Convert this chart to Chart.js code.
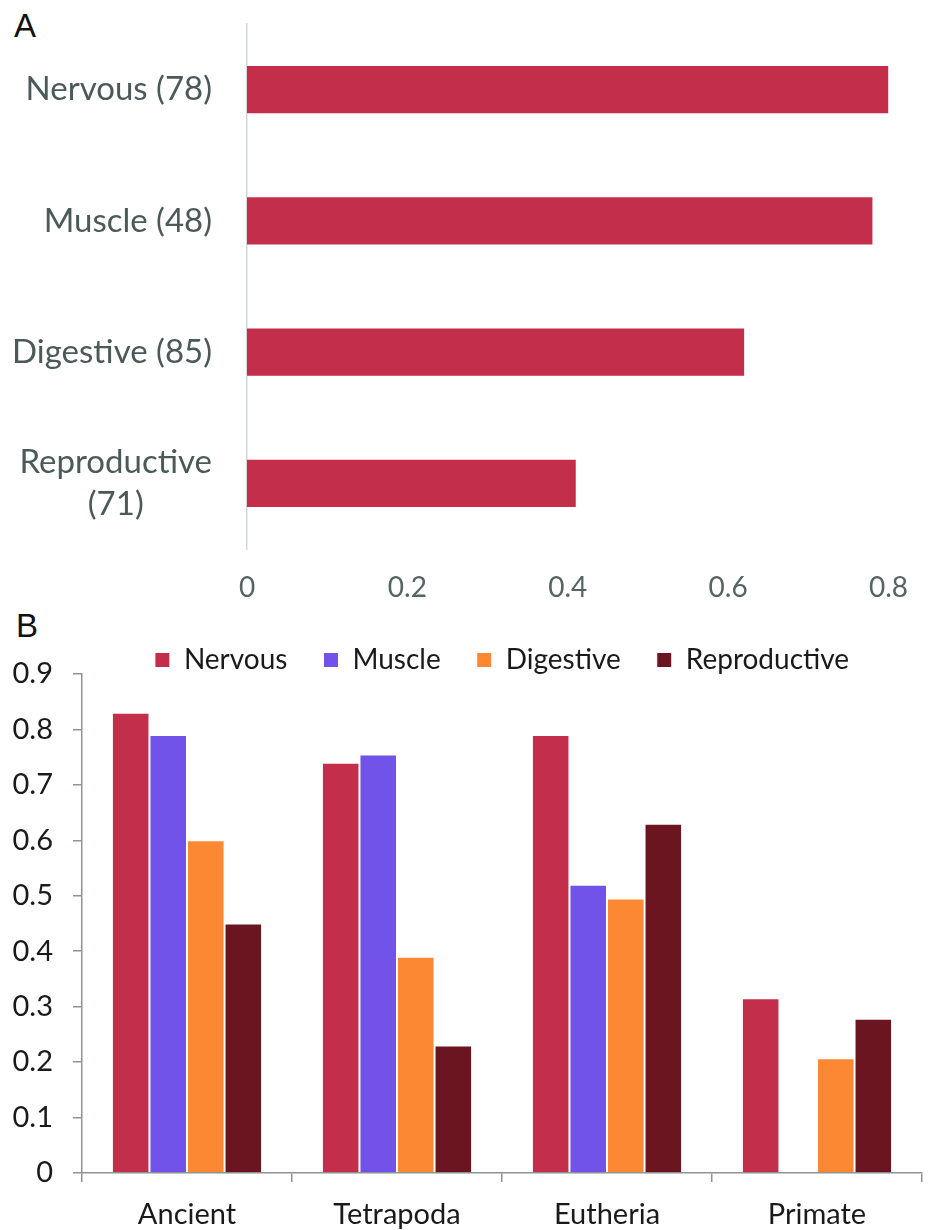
<!DOCTYPE html>
<html>
<head>
<meta charset="utf-8">
<title>Organ system scores</title>
<script src="https://cdn.jsdelivr.net/npm/chart.js@4.4.1/dist/chart.umd.min.js"></script>
<style>
  body { margin: 0; background: #fff; }
  #page { position: relative; width: 930px; height: 1230px; }
  .tag {
    position: absolute;
    font-family: "Liberation Sans", Arial, sans-serif;
    font-size: 33px;
    line-height: 1;
    color: #111;
  }
  #boxA { position: absolute; left: 0; top: 0; width: 930px; height: 605px; }
  #boxB { position: absolute; left: 0; top: 600px; width: 930px; height: 630px; }
</style>
</head>
<body>
<div id="page">
  <div class="tag" style="left:14px; top:9px;">A</div>
  <div class="tag" style="left:16px; top:609px;">B</div>
  <div id="boxA"><canvas id="chartA"></canvas></div>
  <div id="boxB"><canvas id="chartB"></canvas></div>
</div>

<script>
(function () {

  // panel A: one score per organ system (gene count in brackets)
  const systemLabels = [['Nervous (78)'], ['Muscle (48)'], ['Digestive (85)'], ['Reproductive', '(71)']];
  const systemScores = [0.80, 0.78, 0.62, 0.41];

  // panel B: the same systems split by gene age
  const cladeLabels      = ['Ancient', 'Tetrapoda', 'Eutheria', 'Primate'];
  const nervousScores    = [0.83, 0.74, 0.79, 0.315];
  const muscleScores     = [0.79, 0.755, 0.52, null];
  const digestiveScores  = [0.60, 0.39, 0.495, 0.207];
  const reproductScores  = [0.45, 0.23, 0.63, 0.278];

  const FONT   = 'Lato';
  const RED    = '#C32E4A';
  const PURPLE = '#7153EA';
  const ORANGE = '#FD8834';
  const MAROON = '#6A1520';

  // fixed axis sizes so both plots line up the same way every time
  const fixHeight = h => scale => { scale.height = h; };
  const fixWidth  = w => scale => { scale.width = w; };

  // names left of the bars: each block right aligned, its lines centred on each other
  const systemNames = {
    id: 'systemNames',
    afterDraw(chart) {
      const ctx   = chart.ctx;
      const scale = chart.scales.y;
      const right = chart.chartArea.left - 35;
      const lh    = 42;

      ctx.save();
      ctx.font         = `33px ${FONT}`;
      ctx.fillStyle    = '#4B5959';
      ctx.textAlign    = 'center';
      ctx.textBaseline = 'middle';

      systemLabels.forEach((lines, i) => {
        const y     = scale.getPixelForTick(i);
        const width = Math.max(...lines.map(l => ctx.measureText(l).width));
        const cx    = right - width / 2;
        lines.forEach((line, k) => {
          ctx.fillText(line, cx, y + (k - (lines.length - 1) / 2) * lh);
        });
      });
      ctx.restore();
    }
  };

  new Chart(document.getElementById('chartA'), {
    type: 'bar',
    data: {
      labels: systemLabels,
      datasets: [{
        data              : systemScores,
        backgroundColor   : RED,
        barPercentage     : 1,
        categoryPercentage: 0.36
      }]
    },
    options: {
      indexAxis          : 'y',
      responsive         : true,
      maintainAspectRatio: false,
      animation          : false,
      layout : { padding: { left: 247, right: 32, top: 24, bottom: 0 } },
      plugins: { legend: { display: false }, tooltip: { enabled: false } },
      scales : {
        x: {
          min: 0,
          max: 0.8,
          afterFit: fixHeight(56),
          ticks : { stepSize: 0.2, padding: 22, color: '#566363', font: { family: FONT, size: 28 } },
          grid  : { display: false, drawTicks: false },
          border: { display: false }
        },
        y: {
          ticks : { display: false },
          grid  : { display: false, drawTicks: false },
          border: { display: true, color: '#D3D8D8', width: 1.5 }
        }
      }
    },
    plugins: [systemNames]
  });

  const bar = (label, data, color) => ({ label, data, backgroundColor: color });

  new Chart(document.getElementById('chartB'), {
    type: 'bar',
    data: {
      labels  : cladeLabels,
      datasets: [
        bar('Nervous', nervousScores, RED),
        bar('Muscle', muscleScores, PURPLE),
        bar('Digestive', digestiveScores, ORANGE),
        bar('Reproductive', reproductScores, MAROON)
      ]
    },
    options: {
      responsive         : true,
      maintainAspectRatio: false,
      animation          : false,
      layout  : { padding: { left: 0, right: 8, top: 10, bottom: 0 } },
      datasets: {
        bar: {
          categoryPercentage: 0.715,
          barPercentage     : 1,
          borderColor       : '#FFFFFF',
          borderWidth       : 1,
          borderSkipped     : 'bottom'
        }
      },
      plugins: {
        tooltip: { enabled: false },
        legend : {
          position : 'top',
          fullSize : false,
          maxHeight: 64,
          labels   : {
            boxWidth : 15,
            boxHeight: 15,
            padding  : 36,
            color    : '#1A1A1A',
            font     : { family: FONT, size: 28 }
          }
        }
      },
      scales: {
        x: {
          afterFit: fixHeight(57),
          ticks : { padding: 15, color: '#1A1A1A', font: { family: FONT, size: 29 } },
          grid  : { drawOnChartArea: false, tickLength: 9, color: '#8C9494', lineWidth: 1.5, offset: true },
          border: { color: '#8C9494', width: 1.5 }
        },
        y: {
          min: 0,
          max: 0.9,
          afterFit: fixWidth(82),
          ticks : { stepSize: 0.1, padding: 20, color: '#1A1A1A', font: { family: FONT, size: 29 } },
          grid  : { drawOnChartArea: false, tickLength: 9, color: '#8C9494', lineWidth: 1.5 },
          border: { color: '#8C9494', width: 1.5 }
        }
      }
    }
  });

})();
</script>
</body>
</html>
